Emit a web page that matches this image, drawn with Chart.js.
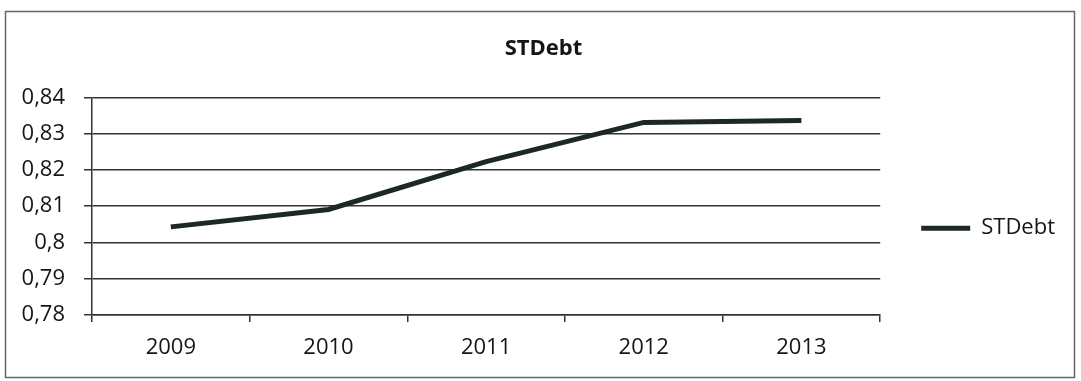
<!DOCTYPE html>
<html><head><meta charset="utf-8">
<script src="https://cdn.jsdelivr.net/npm/chart.js@4/dist/chart.umd.min.js"></script>
<style>html,body{margin:0;padding:0;background:#fff}#wrap{width:1081px;height:381px}</style>
</head><body><div id="wrap"><canvas id="c" width="1081" height="381"></canvas></div>
<script>
const categories = ["2009","2010","2011","2012","2013"];
const stdebt = [0.8043, 0.8091, 0.8223, 0.8331, 0.8336];
const seriesName = "STDebt";
const chartTitle = "STDebt";

const frame = {
  id: 'frame',
  beforeDraw(chart){
    const ctx = chart.ctx;
    ctx.save();
    ctx.fillStyle = '#fff';
    ctx.fillRect(0,0,chart.width,chart.height);
    ctx.strokeStyle = '#666';
    ctx.lineWidth = 1.5;
    ctx.strokeRect(5.5,11.5,1069,366);
    ctx.restore();
  }
};

const FONT = 'Open Sans';
new Chart(document.getElementById('c'), {
  type: 'line',
  data: {
    labels: categories,
    datasets: [{
      label: seriesName,
      data: stdebt,
      borderColor: '#1c2727',
      backgroundColor: '#1c2727',
      borderWidth: 5,
      pointRadius: 0,
      tension: 0,
      yAxisID: 'y'
    }]
  },
  options: {
    responsive: false,
    animation: false,
    layout: { padding: { left: 22, right: 16, top: 10, bottom: 19 } },
    plugins: {
      title: { display: true, text: chartTitle, color: '#151515',
        font: { family: FONT, size: 22, weight: 'bold' }, padding: { top: 26, bottom: 35 } },
      legend: { position: 'right', align: 'center',
        title: { display: true, text: '', font: { family: FONT, size: 22 }, padding: { top: 58, bottom: 0 } },
        labels: { boxWidth: 49, boxHeight: 5, color: '#151515', padding: 10,
          font: { family: FONT, size: 22 },
          generateLabels: (chart) => Chart.defaults.plugins.legend.labels.generateLabels(chart).map(l => Object.assign(l, { lineWidth: 0 })) } },
      tooltip: { enabled: false }
    },
    scales: {
      x: {
        offset: true,
        grid: { offset: true, drawOnChartArea: false, drawTicks: true, tickLength: 7, color: '#333', lineWidth: 1.5 },
        border: { color: '#333', width: 1.5 },
        ticks: { color: '#151515', font: { family: FONT, size: 22 }, padding: 12.8 },
        afterFit: s => { s.height = 47; }
      },
      y: {
        min: 0.78, max: 0.84,
        grid: { color: '#333', lineWidth: 1.5, tickLength: 8 },
        border: { color: '#333', width: 1.5 },
        ticks: { stepSize: 0.01, color: '#151515', font: { family: FONT, size: 22 }, padding: 19,
          callback: v => (Math.round(v*100)/100).toString().replace('.', ',') },
        afterFit: s => { s.width = 70; }
      },
      spacer: {
        type: 'linear', position: 'right', display: true,
        grid: { display: false, drawTicks: false }, border: { display: false },
        ticks: { display: false },
        afterFit: s => { s.width = 31; }
      }
    }
  },
  plugins: [frame]
});
</script></body></html>
